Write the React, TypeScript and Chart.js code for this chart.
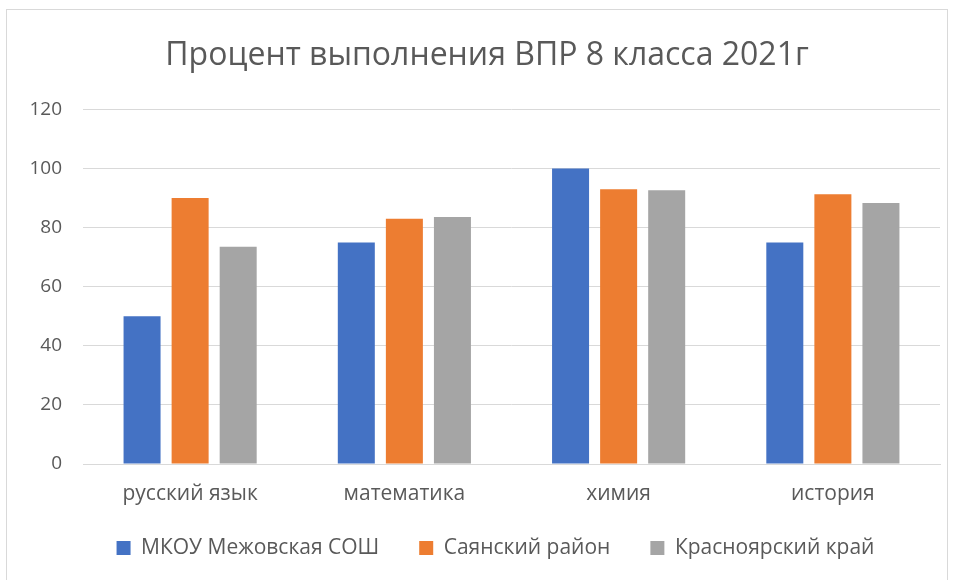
import React, { useEffect, useRef } from "react";
import { Chart, registerables } from "chart.js";

Chart.register(...registerables);

const categories = ["русский язык", "математика", "химия", "история"];
const seriesNames = ["МКОУ Межовская СОШ", "Саянский район", "Красноярский край"];
const schoolValues = [50, 75, 100, 75];
const districtValues = [90, 83, 93, 91.3];
const regionValues = [73.5, 83.6, 92.6, 88.3];
const seriesColors = ["#4472C4", "#ED7D31", "#A5A5A5"];
const titleText = "Процент выполнения ВПР 8 класса 2021г";

const FONT = "'Open Sans', 'DejaVu Sans', sans-serif";
const TEXT = "#595959";
const LEGEND_PAD = 40;
const LEGEND_FONT = 21;

const frame = {
  id: "frame",
  beforeDraw(chart: any) {
    const ctx = chart.ctx;
    ctx.save();
    ctx.fillStyle = "#ffffff";
    ctx.fillRect(0, 0, chart.width, chart.height);
    ctx.strokeStyle = "#d9d9d9";
    ctx.lineWidth = 1;
    ctx.strokeRect(6.5, 9.5, 941, 620);
    ctx.restore();
  },
  afterLayout(chart: any) {
    const lg = chart.legend;
    if (lg) {
      const dx = 495.5 - (lg.left + lg.right) / 2;
      lg.left += dx;
      lg.right += dx;
      const h = lg.bottom - lg.top;
      lg.top = 548 - LEGEND_PAD - LEGEND_FONT / 2;
      lg.bottom = lg.top + h;
    }
    const tb = chart.titleBlock;
    if (tb) {
      const dx = 487 - (tb.left + tb.right) / 2;
      tb.left += dx;
      tb.right += dx;
    }
  },
};

export default function App() {
  const ref = useRef<HTMLCanvasElement | null>(null);
  useEffect(() => {
    if (!ref.current) return;
    const chart = new Chart(ref.current, {
      type: "bar",
      data: {
        labels: categories,
        datasets: [schoolValues, districtValues, regionValues].map((d, i) => ({
          label: seriesNames[i],
          data: d,
          backgroundColor: seriesColors[i],
          borderWidth: 0,
          categoryPercentage: 0.673,
          barPercentage: 0.77,
        })),
      },
      options: {
        animation: false,
        responsive: false,
        maintainAspectRatio: false,
        layout: { padding: { left: 25, right: 15, top: 0, bottom: 2 } },
        plugins: {
          title: {
            display: true,
            text: titleText,
            color: TEXT,
            font: { family: FONT, size: 32, weight: "normal" },
            padding: { top: 37, bottom: 34 },
          },
          legend: {
            position: "bottom",
            maxHeight: 70,
            labels: {
              color: TEXT,
              font: { family: FONT, size: LEGEND_FONT },
              boxWidth: 14,
              boxHeight: 14,
              padding: LEGEND_PAD,
            },
          },
          tooltip: { enabled: false },
        },
        scales: {
          x: {
            grid: { display: false, drawTicks: false },
            border: { display: true, color: "#d9d9d9", width: 1 },
            ticks: { color: TEXT, font: { family: FONT, size: 21 }, padding: 17, maxRotation: 0 },
            afterFit(scale: any) {
              scale.height = 44;
            },
          },
          y: {
            min: 0,
            max: 120,
            ticks: { stepSize: 20, color: TEXT, font: { family: FONT, size: 19 }, padding: 21 },
            grid: { color: "#d9d9d9", drawTicks: false, lineWidth: 1 },
            border: { display: false },
            afterFit(scale: any) {
              scale.width = 58;
            },
          },
        },
      },
      plugins: [frame],
    });
    return () => chart.destroy();
  }, []);
  return (
    <div style={{ position: "absolute", left: 0, top: 0, width: 955, height: 580 }}>
      <canvas ref={ref} width={955} height={580} style={{ width: 955, height: 580, display: "block" }} />
    </div>
  );
}
